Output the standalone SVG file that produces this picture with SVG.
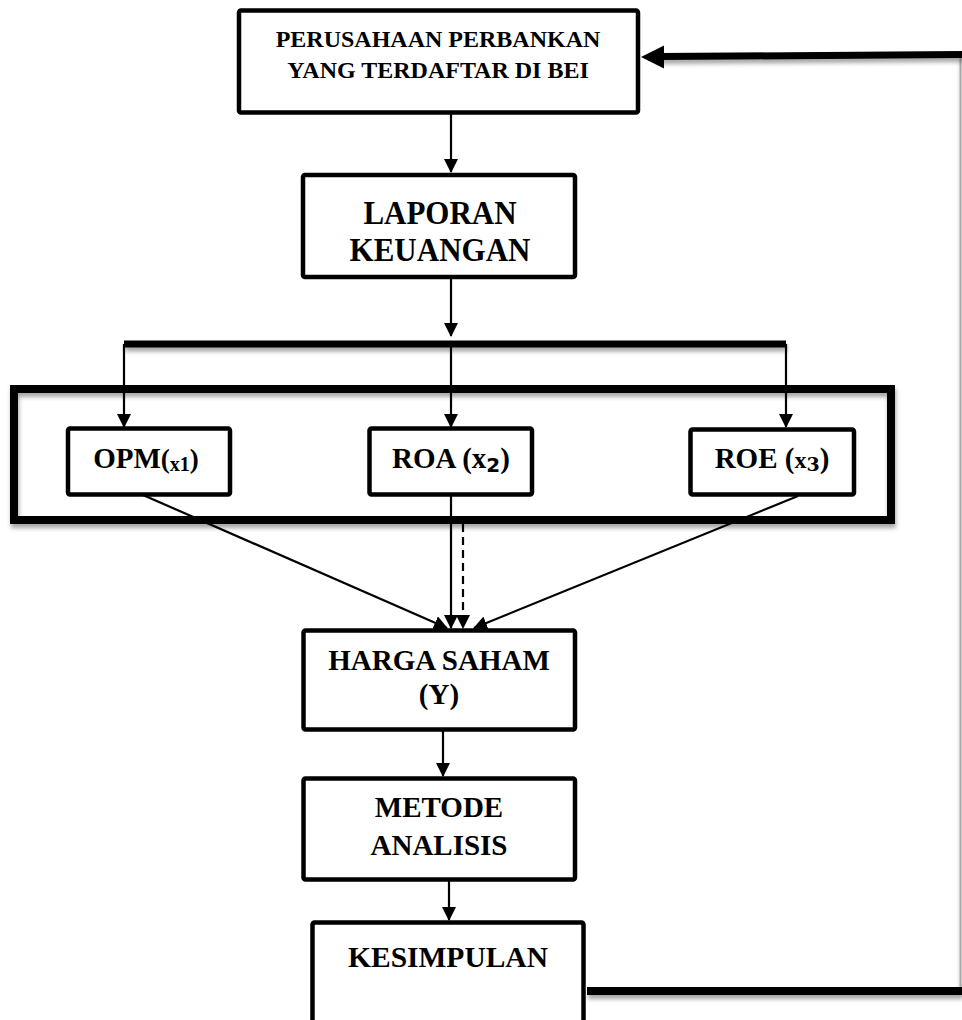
<svg xmlns="http://www.w3.org/2000/svg" width="962" height="1020" viewBox="0 0 962 1020">
<defs>
<style>
.box{fill:#fff;stroke:#000;stroke-width:4.5}
.t{font-family:"Liberation Serif","Times New Roman",serif;font-weight:bold;fill:#000;text-anchor:middle}
.ln{stroke:#000;stroke-width:2.2;fill:none}
.thick{stroke:#000;fill:none}
</style>
<marker id="ah" markerUnits="userSpaceOnUse" markerWidth="14" markerHeight="14" viewBox="0 0 14 14" refX="13" refY="7" orient="auto"><path d="M0,0 L14,7 L0,14 z" fill="#000"/></marker>
<filter id="sh" filterUnits="userSpaceOnUse" x="0" y="0" width="962" height="1020"><feDropShadow dx="1" dy="4" stdDeviation="2" flood-color="#000" flood-opacity="0.35"/></filter>
</defs>
<rect width="962" height="1020" fill="#fff"/>

<g id="connectors">
<line x1="960.5" y1="54" x2="960.5" y2="991" stroke="#a8a8a8" stroke-width="2" filter="url(#sh)"/>
<line class="thick" x1="962" y1="54.5" x2="660" y2="56.5" stroke-width="7" filter="url(#sh)"/>
<polygon points="641,57 664,45.5 664,68.5" fill="#000"/>
<line class="thick" x1="587" y1="991" x2="962" y2="991" stroke-width="8" filter="url(#sh)"/>
<line class="ln" x1="451" y1="113" x2="451" y2="172" marker-end="url(#ah)"/>
<line class="ln" x1="451" y1="277" x2="451" y2="336" marker-end="url(#ah)"/>
<line class="thick" x1="124" y1="344" x2="786" y2="344" stroke-width="7" filter="url(#sh)"/>
<line class="ln" x1="124" y1="344" x2="124" y2="427" marker-end="url(#ah)"/>
<line class="ln" x1="451" y1="344" x2="451" y2="427" marker-end="url(#ah)"/>
<line class="ln" x1="786" y1="344" x2="786" y2="427" marker-end="url(#ah)"/>
<line class="ln" x1="143" y1="495" x2="447" y2="628" marker-end="url(#ah)"/>
<line class="ln" x1="451" y1="495" x2="451" y2="628" marker-end="url(#ah)"/>
<line class="ln" x1="463" y1="524" x2="463" y2="628" stroke-dasharray="8,5" marker-end="url(#ah)"/>
<line class="ln" x1="798" y1="496" x2="474" y2="628" marker-end="url(#ah)"/>
<line class="ln" x1="443" y1="731" x2="443" y2="776" marker-end="url(#ah)"/>
<line class="ln" x1="449" y1="881" x2="449" y2="920" marker-end="url(#ah)"/>
</g>

<g id="group-frame">
<rect x="14" y="389" width="877" height="131" fill="none" stroke="#000" stroke-width="8" filter="url(#sh)"/>
</g>

<g id="node-perusahaan">
<rect class="box" x="239" y="10.5" width="399" height="102" rx="2"/>
<text class="t" x="438" y="47" font-size="24">PERUSAHAAN PERBANKAN</text>
<text class="t" x="438" y="78" font-size="24">YANG TERDAFTAR DI BEI</text>
</g>

<g id="node-laporan">
<rect class="box" x="303" y="175" width="272" height="102" rx="2"/>
<text class="t" font-size="31" transform="translate(440,224) scale(1,1.12)">LAPORAN</text>
<text class="t" font-size="31" transform="translate(440,261) scale(1,1.12)">KEUANGAN</text>
</g>

<g id="node-opm">
<rect class="box" x="68" y="428.5" width="162" height="66" rx="2"/>
<text class="t" x="146" y="468" font-size="29">OPM<tspan font-size="27">(</tspan><tspan font-size="20" dy="3">x1</tspan><tspan font-size="27" dy="-3">)</tspan></text>
</g>

<g id="node-roa">
<rect class="box" x="369.5" y="428.5" width="162.5" height="66" rx="2"/>
<text class="t" x="451" y="468" font-size="29">ROA (x<tspan font-size="20" dy="4" font-family="'DejaVu Sans',sans-serif">2</tspan><tspan dy="-4">)</tspan></text>
</g>

<g id="node-roe">
<rect class="box" x="690.5" y="429.5" width="163.5" height="65" rx="2"/>
<text class="t" x="772" y="468" font-size="29">ROE (<tspan font-size="24">x</tspan><tspan font-size="19" dy="3" font-family="'DejaVu Serif',serif">3</tspan><tspan dy="-3">)</tspan></text>
</g>

<g id="node-harga">
<rect class="box" x="303.5" y="630.5" width="271.5" height="99" rx="2"/>
<text class="t" x="439" y="670" font-size="29">HARGA SAHAM</text>
<text class="t" x="439" y="704" font-size="29">(Y)</text>
</g>

<g id="node-metode">
<rect class="box" x="303.5" y="778.5" width="271.5" height="101" rx="2"/>
<text class="t" x="439" y="817" font-size="29">METODE</text>
<text class="t" x="439" y="855" font-size="29">ANALISIS</text>
</g>

<g id="node-kesimpulan">
<rect class="box" x="312.5" y="922.5" width="271" height="120" rx="2"/>
<text class="t" x="448" y="967" font-size="29.5">KESIMPULAN</text>
</g>
</svg>
